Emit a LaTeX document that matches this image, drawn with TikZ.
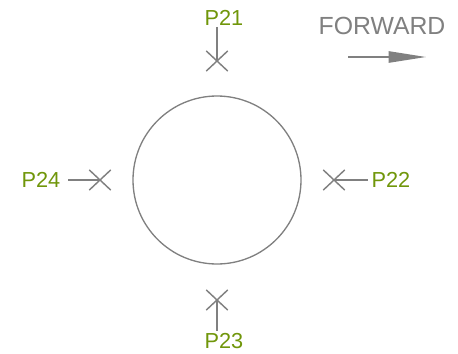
\documentclass[tikz,border=0pt]{standalone}
\usepackage{fontspec}
\setmainfont{Liberation Sans}
\usetikzlibrary{arrows.meta,shapes.misc}
\definecolor{lblgreen}{RGB}{112,150,10}
\definecolor{lngray}{RGB}{128,128,128}
\tikzset{
  plabel/.style={text=lblgreen,inner sep=0.75pt,font=\fontsize{16.3}{18}\selectfont},
  xmark/.style={cross out,draw=lngray,line width=1.1pt,inner sep=0pt,minimum width=15pt,minimum height=14pt},
  pline/.style={draw=lngray,line width=1.1pt}
}
\begin{document}
\begin{tikzpicture}[x=0.75pt,y=0.75pt,yscale=-1,xscale=1]
\useasboundingbox (0,0) rectangle (458,354);

%Shape: Circle [id:circ]
\draw [draw=lngray,line width=1pt] (217,180) circle (84);

%Cross marks
\node [xmark] (x21) at (217,61) {};
\node [xmark] (x22) at (334,180) {};
\node [xmark] (x23) at (217,300) {};
\node [xmark] (x24) at (100,180) {};

% Text Node
\node [plabel] (p21) at (224,18) {P21};
% Text Node
\node [plabel] (p22) at (391,180) {P22};
% Text Node
\node [plabel] (p23) at (224,341) {P23};
% Text Node
\node [plabel] (p24) at (41,180) {P24};

%Straight Lines
\draw [pline] (x21.center |- p21.south) -- (x21.center) ;
\draw [pline,shorten <=2pt] (p22.west) -- (x22.center) ;
\draw [pline,shorten <=1pt] (x23.center |- p23.north) -- (x23.center) ;
\draw [pline,shorten <=5pt] (p24.east) -- (x24.center) ;

% Text Node
\node [text=lngray,inner sep=0.75pt,font=\fontsize{18.6}{20}\selectfont] (fwd) at (382,26) {FORWARD};
\coordinate (fwdA) at (348,57);
\coordinate (fwdB) at (426,57);
%Straight Lines
\draw [draw=lngray,line width=1.1pt,-{Triangle[length=28pt,width=8.5pt,fill=lngray]}] (fwdA) -- (fwdB) ;

\end{tikzpicture}
\end{document}
